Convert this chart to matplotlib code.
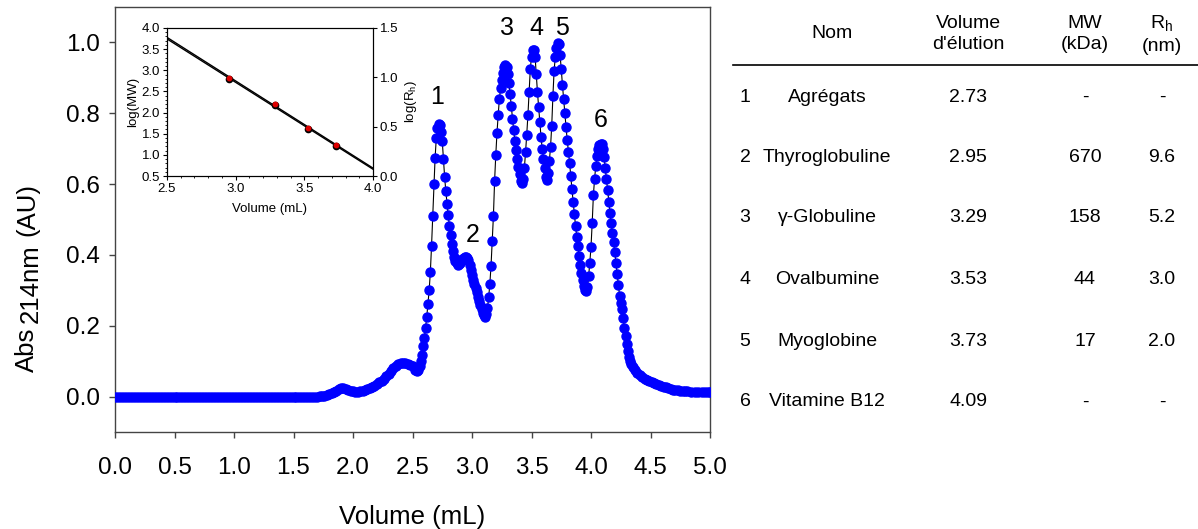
import numpy as np
import matplotlib
matplotlib.use("Agg")
import matplotlib.pyplot as plt

plt.rcParams['font.family'] = ['Liberation Sans', 'DejaVu Sans']
plt.rcParams['mathtext.fontset'] = 'custom'
plt.rcParams['mathtext.rm'] = 'Liberation Sans'

# ---------------- chromatogram ----------------
vol = [0.000, 0.025, 0.050, 0.075, 0.100, 0.125, 0.150, 0.175, 0.200, 0.225, 0.250, 0.275,
       0.300, 0.325, 0.350, 0.375, 0.400, 0.425, 0.450, 0.475, 0.500, 0.525, 0.550, 0.575,
       0.600, 0.625, 0.650, 0.675, 0.700, 0.725, 0.750, 0.775, 0.800, 0.825, 0.850, 0.875,
       0.900, 0.925, 0.950, 0.975, 1.000, 1.025, 1.050, 1.075, 1.100, 1.125, 1.150, 1.175,
       1.200, 1.225, 1.250, 1.275, 1.300, 1.325, 1.350, 1.375, 1.400, 1.425, 1.450, 1.475,
       1.500, 1.525, 1.550, 1.575, 1.600, 1.625, 1.650, 1.675, 1.700, 1.720,
       1.74, 1.76, 1.78, 1.80, 1.82, 1.84, 1.86, 1.88, 1.90, 1.92, 1.94, 1.96, 1.98, 2.00,
       2.02, 2.04, 2.06, 2.08, 2.10, 2.12, 2.14, 2.16, 2.18, 2.20, 2.22, 2.24, 2.26, 2.28,
       2.30, 2.32, 2.34, 2.36, 2.38, 2.40, 2.42, 2.44, 2.46, 2.48,
       2.50, 2.52, 2.535, 2.55, 2.56, 2.57, 2.58, 2.59, 2.60, 2.61, 2.62, 2.63, 2.64, 2.65,
       2.66, 2.67, 2.68, 2.69, 2.70, 2.71, 2.72, 2.73, 2.74, 2.75, 2.76, 2.77, 2.78, 2.79,
       2.80, 2.81, 2.82, 2.83, 2.84, 2.85, 2.86, 2.87, 2.88, 2.89, 2.90, 2.91, 2.92, 2.93,
       2.94, 2.95, 2.96, 2.97, 2.98, 2.99, 3.00, 3.01, 3.02, 3.03, 3.04, 3.05, 3.06, 3.07,
       3.08, 3.09, 3.10, 3.11, 3.12, 3.13, 3.14, 3.15, 3.16, 3.17, 3.18, 3.19, 3.20, 3.21,
       3.22, 3.23, 3.24, 3.25, 3.26, 3.27, 3.28, 3.29, 3.30, 3.31, 3.32, 3.33, 3.34, 3.35,
       3.36, 3.37, 3.38, 3.39, 3.40, 3.41, 3.42, 3.43, 3.44, 3.45, 3.46, 3.47, 3.48, 3.49,
       3.50, 3.51, 3.52, 3.53, 3.54, 3.55, 3.56, 3.57, 3.58, 3.59, 3.60, 3.61, 3.62, 3.63,
       3.64, 3.65, 3.66, 3.67, 3.68, 3.69, 3.70, 3.71, 3.72, 3.73, 3.74, 3.75, 3.76, 3.77,
       3.78, 3.79, 3.80, 3.81, 3.82, 3.83, 3.84, 3.85, 3.86, 3.87, 3.88, 3.89, 3.90, 3.91,
       3.92, 3.93, 3.94, 3.95, 3.96, 3.97, 3.98, 3.99, 4.00, 4.01, 4.02, 4.03, 4.04, 4.05,
       4.06, 4.07, 4.08, 4.09, 4.10, 4.11, 4.12, 4.13, 4.14, 4.15, 4.16, 4.17, 4.18, 4.19,
       4.20, 4.21, 4.22, 4.23, 4.24, 4.25, 4.26, 4.27, 4.28, 4.29, 4.30, 4.31, 4.32, 4.33,
       4.34, 4.35, 4.37, 4.39, 4.41, 4.43, 4.45, 4.47, 4.49, 4.51, 4.53, 4.55, 4.57, 4.59,
       4.61, 4.63, 4.65, 4.67, 4.69, 4.71, 4.73, 4.75, 4.77, 4.79, 4.81, 4.84, 4.87, 4.90,
       4.93, 4.96, 4.98, 5.00]
absorb = [0.000, 0.000, 0.000, 0.000, 0.000, 0.000, 0.000, 0.000, 0.000, 0.000, 0.000, 0.000,
          0.000, 0.000, 0.000, 0.000, 0.000, 0.000, 0.000, 0.000, 0.000, 0.000, 0.000, 0.000,
          0.000, 0.000, 0.000, 0.000, 0.000, 0.000, 0.000, 0.000, 0.000, 0.000, 0.000, 0.000,
          0.000, 0.000, 0.000, 0.000, 0.000, 0.000, 0.000, 0.000, 0.000, 0.000, 0.000, 0.000,
          0.000, 0.000, 0.000, 0.000, 0.000, 0.000, 0.000, 0.000, 0.000, 0.000, 0.000, 0.000,
          0.000, 0.000, 0.000, 0.000, 0.000, 0.000, 0.000, 0.000, 0.000, 0.001,
          0.001, 0.002, 0.004, 0.006, 0.009, 0.013, 0.017, 0.021, 0.023, 0.024, 0.022, 0.020, 0.017, 0.015,
          0.014, 0.014, 0.015, 0.016, 0.018, 0.021, 0.024, 0.027, 0.031, 0.035, 0.040, 0.045, 0.051, 0.058,
          0.065, 0.073, 0.080, 0.087, 0.092, 0.095, 0.096, 0.095, 0.092, 0.089,
          0.085, 0.076, 0.071, 0.075, 0.085, 0.100, 0.118, 0.142, 0.165, 0.195, 0.226, 0.262, 0.300, 0.352,
          0.425, 0.510, 0.600, 0.675, 0.730, 0.758, 0.770, 0.768, 0.748, 0.722, 0.672, 0.620, 0.580, 0.545,
          0.512, 0.482, 0.455, 0.432, 0.412, 0.395, 0.383, 0.376, 0.372, 0.373, 0.377, 0.382, 0.388, 0.392,
          0.395, 0.395, 0.392, 0.385, 0.372, 0.357, 0.343, 0.330, 0.318, 0.306, 0.294, 0.282, 0.271, 0.260,
          0.248, 0.237, 0.229, 0.226, 0.232, 0.250, 0.280, 0.318, 0.370, 0.440, 0.510, 0.610, 0.683, 0.745,
          0.795, 0.840, 0.870, 0.895, 0.915, 0.930, 0.935, 0.930, 0.910, 0.885, 0.855, 0.820, 0.785, 0.752,
          0.722, 0.696, 0.670, 0.648, 0.628, 0.610, 0.603, 0.615, 0.645, 0.690, 0.740, 0.795, 0.860, 0.925,
          0.960, 0.978, 0.980, 0.960, 0.910, 0.860, 0.818, 0.775, 0.733, 0.700, 0.672, 0.645, 0.620, 0.612,
          0.630, 0.665, 0.705, 0.765, 0.850, 0.920, 0.960, 0.985, 0.998, 0.995, 0.965, 0.925, 0.880, 0.840,
          0.800, 0.762, 0.725, 0.692, 0.660, 0.622, 0.585, 0.550, 0.515, 0.482, 0.452, 0.425, 0.398, 0.372,
          0.350, 0.330, 0.313, 0.300, 0.297, 0.310, 0.340, 0.378, 0.423, 0.490, 0.568, 0.615, 0.650, 0.680,
          0.698, 0.710, 0.714, 0.712, 0.700, 0.676, 0.645, 0.615, 0.583, 0.550, 0.517, 0.490, 0.463, 0.437,
          0.407, 0.377, 0.345, 0.315, 0.285, 0.265, 0.248, 0.222, 0.195, 0.170, 0.148, 0.128, 0.113, 0.101,
          0.092, 0.084, 0.074, 0.066, 0.060, 0.055, 0.051, 0.048, 0.045, 0.042, 0.039, 0.036, 0.033, 0.030,
          0.028, 0.026, 0.024, 0.022, 0.020, 0.019, 0.018, 0.017, 0.016, 0.015, 0.015, 0.014, 0.013, 0.013,
          0.012, 0.012, 0.012, 0.012]

peak_labels = ['1', '2', '3', '4', '5', '6']
peak_label_x = [2.706, 3.008, 3.294, 3.538, 3.756, 4.084]
peak_label_y = [0.845, 0.456, 1.040, 1.040, 1.040, 0.780]

x_ticks = [0.0, 0.5, 1.0, 1.5, 2.0, 2.5, 3.0, 3.5, 4.0, 4.5, 5.0]
y_ticks = [0.0, 0.2, 0.4, 0.6, 0.8, 1.0]

# ---------------- calibration (inset) ----------------
cal_vol = [2.95, 3.29, 3.53, 3.73]
cal_mw = [670, 158, 44, 17]
cal_rh = [9.6, 5.2, 3.0, 2.0]

# ---------------- table ----------------
tbl_num = ['1', '2', '3', '4', '5', '6']
tbl_name = ['Agrégats', 'Thyroglobuline', 'γ-Globuline', 'Ovalbumine', 'Myoglobine', 'Vitamine B12']
tbl_vol = ['2.73', '2.95', '3.29', '3.53', '3.73', '4.09']
tbl_mw = ['-', '670', '158', '44', '17', '-']
tbl_rh = ['-', '9.6', '5.2', '3.0', '2.0', '-']

W, H = 1198, 529
fig = plt.figure(figsize=(W / 100, H / 100), dpi=100)

def fx(px):
    return px / W

def fy(py):
    return 1 - py / H

spine_c = '#444444'

ax = fig.add_axes([fx(115), fy(432), fx(710) - fx(115), fy(7) - fy(432)])
ax.plot(vol, absorb, color='black', lw=0.8, zorder=2)
ax.plot(vol, absorb, ls='none', marker='o', ms=6.5, mfc='#0000ff', mec='#0000ff', zorder=3)
ax.set_xlim(0, 5)
ax.set_ylim(-0.1, 1.1)
ax.set_xticks(x_ticks)
ax.set_xticklabels([f'{t:.1f}' for t in x_ticks])
ax.set_yticks(y_ticks)
ax.set_yticklabels([f'{t:.1f}' for t in y_ticks])
ax.tick_params(direction='out', length=4, width=1, colors=spine_c, labelcolor='black', labelsize=17.5)
ax.tick_params(axis='x', pad=14)
ax.tick_params(axis='y', pad=7)
for s in ax.spines.values():
    s.set_color(spine_c)
    s.set_linewidth(1)
ax.set_xlabel('Volume (mL)', fontsize=18.5, labelpad=19)

for lab, lx, ly in zip(peak_labels, peak_label_x, peak_label_y):
    ax.text(lx, ly, lab, fontsize=18, ha='center', va='center')

# y label in three pieces (subscript-like offset of "214nm")
fig.text(fx(27), fy(350), 'Abs', rotation=90, fontsize=18.5, ha='center', va='center')
fig.text(fx(31), fy(284), '214nm', rotation=90, fontsize=18.5, ha='center', va='center')
fig.text(fx(27), fy(210), '(AU)', rotation=90, fontsize=18.5, ha='center', va='center')

# ---------------- inset ----------------
axi = fig.add_axes([fx(167), fy(176), fx(373) - fx(167), fy(28) - fy(176)])
axi.set_facecolor('white')
axi.set_xlim(2.5, 4.0)
axi.set_ylim(0.5, 4.0)
axi.set_xticks([2.5, 3.0, 3.5, 4.0])
axi.set_yticks([0.5, 1.0, 1.5, 2.0, 2.5, 3.0, 3.5, 4.0])
axi.set_xticks(np.arange(2.5, 4.001, 0.1), minor=True)
axi.set_yticks(np.arange(0.5, 4.001, 0.1), minor=True)
axi.tick_params(which='major', direction='out', length=3, width=0.8, labelsize=9.5, pad=2)
axi.tick_params(which='minor', direction='out', length=1.5, width=0.6)
axi.set_xlabel('Volume (mL)', fontsize=9.5, labelpad=6)
axi.set_ylabel('log(MW)', fontsize=9.5, labelpad=2)

ax2 = axi.twinx()
ax2.set_ylim(0.0, 1.5)
ax2.set_yticks([0.0, 0.5, 1.0, 1.5])
ax2.set_yticklabels(['0.0', '0.5', '1.0', '1.5'])
ax2.tick_params(direction='out', length=3, width=0.8, labelsize=9.5, pad=2)
ax2.set_ylabel(r'log(R$_\mathregular{h}$)', fontsize=9.5, labelpad=3)

logmw = np.log10(cal_mw)
logrh = np.log10(cal_rh)
xl = np.array([2.5, 4.0])
p_mw = np.polyfit(cal_vol, logmw, 1)
p_rh = np.polyfit(cal_vol, logrh, 1)
ax2.plot(xl, np.polyval(p_rh, xl), color='black', lw=1.0, zorder=2)
axi.plot(xl, np.polyval(p_mw, xl), color='black', lw=1.0, zorder=2)
ax2.plot(cal_vol, logrh, ls='none', marker='o', ms=4.5, color='black', zorder=3)
ax2.plot(cal_vol, logmw, ls='none', marker='o', ms=3.2, color='#dd0000',
         transform=axi.transData, zorder=4)
ax2.set_xlim(2.5, 4.0)
for a in (axi, ax2):
    for s in a.spines.values():
        s.set_color('black')
        s.set_linewidth(0.8)

# ---------------- table ----------------
hdr_y = 34
fig.text(fx(832), fy(hdr_y), 'Nom', fontsize=14, ha='center', va='center')
fig.text(fx(968), fy(hdr_y), "Volume\nd'élution", fontsize=14, ha='center', va='center', linespacing=1.3)
fig.text(fx(1085), fy(hdr_y), "MW\n(kDa)", fontsize=14, ha='center', va='center', linespacing=1.3)
fig.text(fx(1162), fy(hdr_y), "R$_\\mathregular{h}$\n(nm)", fontsize=14, ha='center', va='center', linespacing=1.3)
fig.add_artist(plt.Line2D([fx(733), fx(1198)], [fy(65), fy(65)], color='black', lw=1.2))

row_y = [97, 157, 218, 280, 341, 402]
for n, name, v, mw, rh, yy in zip(tbl_num, tbl_name, tbl_vol, tbl_mw, tbl_rh, row_y):
    fig.text(fx(745), fy(yy), n, fontsize=14, ha='center', va='center')
    fig.text(fx(827), fy(yy), name, fontsize=14, ha='center', va='center')
    fig.text(fx(968), fy(yy), v, fontsize=14, ha='center', va='center')
    fig.text(fx(1085), fy(yy), mw, fontsize=14, ha='center', va='center')
    fig.text(fx(1162), fy(yy), rh, fontsize=14, ha='center', va='center')

fig.savefig('out.png', dpi=100)
